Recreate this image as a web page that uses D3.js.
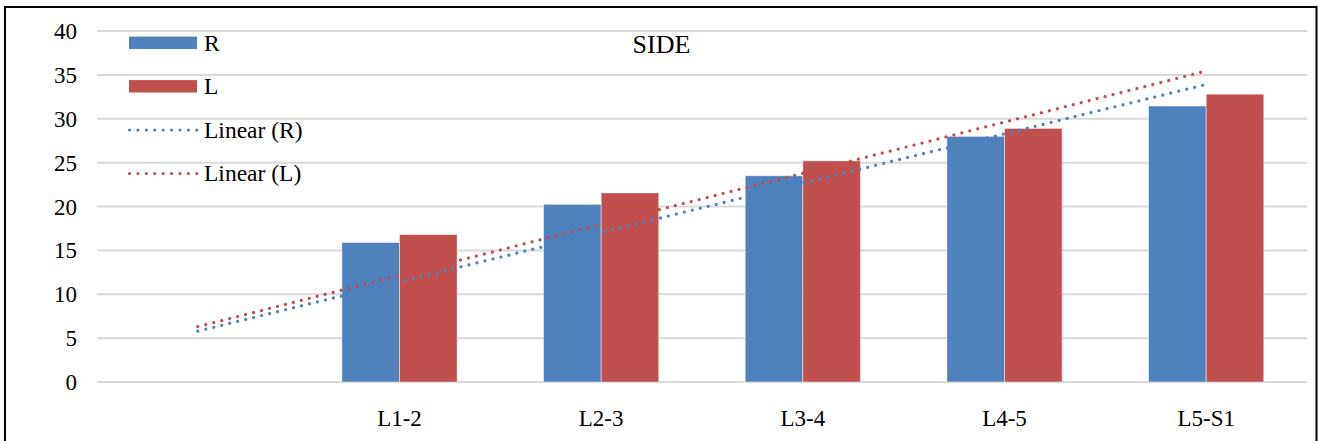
<!DOCTYPE html>
<html>
<head>
<meta charset="utf-8">
<script src="https://cdn.jsdelivr.net/npm/d3@7"></script>
<style>
  html, body { margin: 0; padding: 0; background: #fff; }
  svg { display: block; }
  text { font-family: "Liberation Serif", "Times New Roman", serif; fill: #000; }
</style>
</head>
<body>
<svg id="chart" width="1319" height="441"></svg>
<script>
// Disc levels (first slot is an empty category) and measured values per side
const categories = ["", "L1-2", "L2-3", "L3-4", "L4-5", "L5-S1"];
const valuesR = [0, 15.9, 20.25, 23.5, 28.0, 31.45];
const valuesL = [0, 16.8, 21.55, 25.2, 28.9, 32.8];
const yTicks = [0, 5, 10, 15, 20, 25, 30, 35, 40];
const seriesNames = ["R", "L"];
const trendNames = ["Linear (R)", "Linear (L)"];
const colors = { R: "#4F81BD", L: "#C0504D" };

const FONT = '"Liberation Serif", "Times New Roman", serif';
const plot = { left: 97, right: 1307, top: 31, bottom: 382 };

const svg = d3.select("#chart");

// outer frame
svg.append("rect")
  .attr("x", 5).attr("y", 7)
  .attr("width", 1311.5).attr("height", 440)
  .attr("fill", "none").attr("stroke", "#000").attr("stroke-width", 2);

const x = d3.scaleBand().domain(categories.map((c, i) => i))
  .range([plot.left, plot.right]).paddingInner(0).paddingOuter(0);
const y = d3.scaleLinear().domain([0, 40]).range([plot.bottom, plot.top]);

// gap width 150% of a bar: two bars + 1.5 bar gap per category
const barW = x.bandwidth() / 3.5;

// horizontal gridlines
svg.append("g").selectAll("line").data(yTicks).join("line")
  .attr("x1", plot.left).attr("x2", plot.right)
  .attr("y1", d => y(d)).attr("y2", d => y(d))
  .attr("stroke", "#D9D9D9").attr("stroke-width", 2);

// y axis labels
const yAxis = d3.axisLeft(y).tickValues(yTicks).tickSize(0).tickPadding(20);
const gy = svg.append("g").attr("transform", `translate(${plot.left},0)`).call(yAxis);
gy.select(".domain").remove();
gy.selectAll("text")
  .style("font-family", FONT)
  .attr("font-size", 23).attr("fill", "#000").attr("dy", "0.33em");

// x axis labels
const xAxis = d3.axisBottom(x).tickFormat(i => categories[i]).tickSize(0).tickPadding(21);
const gx = svg.append("g").attr("transform", `translate(0,${plot.bottom})`).call(xAxis);
gx.select(".domain").remove();
gx.selectAll("text")
  .style("font-family", FONT)
  .attr("font-size", 23).attr("fill", "#000").attr("dy", "1em");

// bars
const seriesData = [valuesR, valuesL];
seriesData.forEach((vals, s) => {
  const name = seriesNames[s];
  svg.append("g").selectAll("rect").data(vals.map((v, i) => ({ v, i }))).join("rect")
    .attr("x", d => x(d.i) + barW * 0.75 + s * barW)
    .attr("width", barW)
    .attr("y", d => y(d.v))
    .attr("height", d => y(0) - y(d.v))
    .attr("fill", colors[name])
    .attr("stroke", d => d.v > 0 ? "rgba(255,255,255,0.6)" : "none")
    .attr("stroke-width", 0.8);
});

// least-squares linear trend over category positions 1..n
function linearFit(vals) {
  const xs = vals.map((_, i) => i + 1);
  const mx = d3.mean(xs), my = d3.mean(vals);
  let num = 0, den = 0;
  xs.forEach((xi, i) => { num += (xi - mx) * (vals[i] - my); den += (xi - mx) ** 2; });
  const slope = num / den;
  const intercept = my - slope * mx;
  return xi => intercept + slope * xi;
}

const cx = i => x(i) + x.bandwidth() / 2;
seriesData.forEach((vals, s) => {
  const f = linearFit(vals);
  const n = vals.length;
  svg.append("line")
    .attr("x1", cx(0)).attr("y1", y(f(1)))
    .attr("x2", cx(n - 1)).attr("y2", y(f(n)))
    .attr("stroke", colors[seriesNames[s]])
    .attr("stroke-width", 3.2)
    .attr("stroke-linecap", "round")
    .attr("stroke-dasharray", "0.01 8.2");
});

// title
svg.append("text").attr("x", 661.5).attr("y", 52.5)
  .attr("text-anchor", "middle").attr("font-size", 26).text("SIDE");

// legend
const legend = svg.append("g");
const rowY = [42.8, 86.3, 130, 173.5];
seriesNames.forEach((name, i) => {
  legend.append("rect").attr("x", 129).attr("y", rowY[i] - 6.2)
    .attr("width", 68).attr("height", 12.4).attr("fill", colors[name]);
  legend.append("text").attr("x", 204).attr("y", rowY[i] + 7.8)
    .attr("font-size", 23.5).text(name);
});
trendNames.forEach((name, i) => {
  const r = rowY[i + 2];
  legend.append("line").attr("x1", 129.5).attr("x2", 197)
    .attr("y1", r).attr("y2", r)
    .attr("stroke", colors[seriesNames[i]])
    .attr("stroke-width", 3.2).attr("stroke-linecap", "round")
    .attr("stroke-dasharray", "0.01 8.4");
  legend.append("text").attr("x", 204).attr("y", r + 7.8)
    .attr("font-size", 23.5).text(name);
});
</script>
</body>
</html>
